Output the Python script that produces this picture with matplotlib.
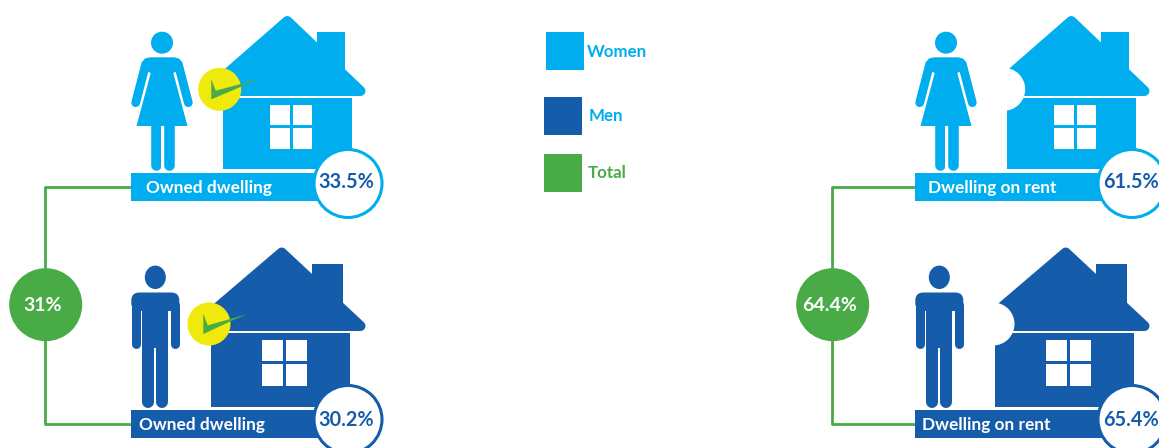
import matplotlib.pyplot as plt
from matplotlib.patches import Circle, Ellipse, FancyBboxPatch, Polygon, Rectangle

plt.rcParams['font.family'] = ['Lato', 'DejaVu Sans']

# data
legend_labels = ['Women', 'Men', 'Total']
dwelling_labels = ['Owned dwelling', 'Dwelling on rent']
women_pct = [33.5, 61.5]
men_pct = [30.2, 65.4]
total_pct = ['31%', '64.4%']

LIGHT = '#00AEEF'
DARK = '#155DAB'
GREEN = '#48AB45'
YELLOW = '#EFEA0B'

fig = plt.figure(figsize=(11.59, 4.48), dpi=100)
ax = fig.add_axes([0, 0, 1, 1])
ax.set_xlim(0, 1159)
ax.set_ylim(448, 0)
ax.axis('off')


def thick(xs, ys, color, lw, z=3):
    ax.plot(xs, ys, color=color, lw=lw * 0.72, solid_capstyle='round', zorder=z)


def house(dx, roof, chimney, wall, window, color):
    # chimney and roof, stroked so the corners come out round
    x, y, w, h = chimney
    ax.add_patch(Rectangle((x + dx, y), w, h, fc=color, ec='none', zorder=2))
    pts = [(px + dx, py) for px, py in roof]
    ax.add_patch(Polygon(pts, closed=True, fc=color, ec=color, lw=7.2, joinstyle='round', zorder=2))
    x, y, w, h = wall
    ax.add_patch(Rectangle((x + dx, y), w, h, fc=color, ec='none', zorder=2))
    x, y, w, h = window
    pw, ph = (w - 3) / 2, (h - 3) / 2
    for i in range(2):
        for j in range(2):
            ax.add_patch(Rectangle((x + dx + i * (pw + 3), y + j * (ph + 3)), pw, ph,
                                   fc='white', ec='none', zorder=3))


def badge(cx, cy, tick, shift=0):
    if tick:
        ax.add_patch(Circle((cx, cy), 21.5, fc=YELLOW, ec='none', zorder=4))
        mark = [(-8.4 + shift, -10.3), (-4 + shift, 1.4), (38.6, -10), (20, -2), (-8.4 + shift, 10)]
        ax.add_patch(Polygon([(cx + a, cy + b) for a, b in mark], closed=True,
                             fc=GREEN, ec='none', zorder=5))
    else:
        ax.add_patch(Circle((cx, cy), 21.5, fc='white', ec='none', zorder=4))


def woman(dx):
    c = dx + 162
    ax.add_patch(Circle((c, 42.7), 11, fc=LIGHT, ec='none', zorder=3))
    for s in (-1, 1):
        thick([c + s * 17, c + s * 26.3], [67, 102.7], LIGHT, 8.8)
        # gap between arm and dress
        ax.plot([c + s * 12, c + s * 20], [73, 106], color='white', lw=1.5, zorder=3)
        thick([c + s * 6.5, c + s * 6.5], [126, 165], LIGHT, 10.6)
    ax.add_patch(Polygon([(c - 12, 57.3), (c + 12, 57.3), (c + 17, 58.5), (c + 20.5, 62.5), (c + 21.3, 68),
                          (c + 11.3, 73), (c + 25.5, 126), (c - 25.5, 126), (c - 11.3, 73),
                          (c - 21.3, 68), (c - 20.5, 62.5), (c - 17, 58.5)],
                         closed=True, fc=LIGHT, ec='none', zorder=3))
    ax.add_patch(Rectangle((c - 1.3, 126), 2.6, 44, fc='white', ec='none', zorder=4))


def man(dx):
    c = dx + 155.3
    ax.add_patch(Ellipse((c, 277.3), 21, 23.4, fc=DARK, ec='none', zorder=3))
    ax.add_patch(FancyBboxPatch((c - 24, 292.5), 48, 18.5, boxstyle='round,pad=0,rounding_size=8',
                                fc=DARK, ec='none', zorder=3))
    for s in (-1, 1):
        thick([c + s * 19.5, c + s * 19.5], [305, 344.5], DARK, 9)
        thick([c + s * 7, c + s * 7], [340, 402], DARK, 12)
    ax.add_patch(Rectangle((c - 13, 310), 26, 40, fc=DARK, ec='none', zorder=3))
    ax.add_patch(Rectangle((c - 1, 348), 2, 60, fc='white', ec='none', zorder=4))


woman_roof = [(287.3, 21), (360.5, 91), (222, 91), (222, 78)]
man_roof = [(281.7, 252.5), (360.5, 326), (212, 326), (212, 312)]
bracket_x = [45, 48]
total_text_x = [42.7, 46]

for i in range(2):
    dx = i * 784

    # green bracket and total
    bx = dx + bracket_x[i]
    ax.plot([dx + 131, bx, bx, dx + 131], [187, 187, 424, 424], color=GREEN, lw=2, zorder=1)
    ax.add_patch(Circle((bx + 0.7, 304.7), 36.5, fc=GREEN, ec='none', zorder=2))
    ax.text(dx + total_text_x[i], 305.5, total_pct[i], color='white', fontsize=14,
            fontweight='bold', ha='center', va='center', zorder=6)

    # women row
    house(dx, woman_roof, (317, 32, 28, 40), (223, 98, 129, 71), (270, 105, 42, 44), LIGHT)
    badge(dx + 219.7, 89.3, i == 0)
    woman(dx)
    ax.add_patch(Rectangle((dx + 131, 173), 205, 28, fc=LIGHT, ec='none', zorder=3))
    ax.text(dx + (145.7 if i == 0 else 144), 187.5, dwelling_labels[i], color='white', fontsize=12.4,
            fontweight='bold', ha='left', va='center', zorder=6)
    ax.add_patch(Circle((dx + 348, 183.5), 34, fc='white', ec=LIGHT, lw=2.2, zorder=5))
    ax.text(dx + 346.5, 182, f'{women_pct[i]}%', color=DARK, fontsize=14.3, fontweight='bold',
            ha='center', va='center', zorder=6)

    # men row
    house(dx, man_roof, (312, 264, 31, 42), (211, 332.7, 139, 74), (262, 340, 45, 46), DARK)
    badge(dx + 209, 324, i == 0, shift=2.7)
    man(dx)
    ax.add_patch(Rectangle((dx + 131, 410), 205, 28, fc=DARK, ec='none', zorder=3))
    ax.text(dx + (139 if i == 0 else 137.7), 425, dwelling_labels[i], color='white', fontsize=12.4,
            fontweight='bold', ha='left', va='center', zorder=6)
    ax.add_patch(Circle((dx + 348, 419.5), 34, fc='white', ec=DARK, lw=2.2, zorder=5))
    ax.text(dx + 346.5, 419.5, f'{men_pct[i]}%', color=DARK, fontsize=14.3, fontweight='bold',
            ha='center', va='center', zorder=6)

# legend
ax.add_patch(Rectangle((546, 32), 38, 38, fc=LIGHT, ec='none'))
ax.add_patch(Rectangle((544, 97), 38, 38, fc=DARK, ec='none'))
ax.add_patch(Rectangle((544, 154), 38, 38, fc=GREEN, ec='none'))
ax.text(587, 52, legend_labels[0], color=LIGHT, fontsize=12.2, fontweight='bold', va='center')
ax.text(589, 116, legend_labels[1], color=LIGHT, fontsize=12.2, fontweight='bold', va='center')
ax.text(588, 173, legend_labels[2], color=GREEN, fontsize=12.2, fontweight='bold', va='center')

fig.savefig('out.png', dpi=100)
